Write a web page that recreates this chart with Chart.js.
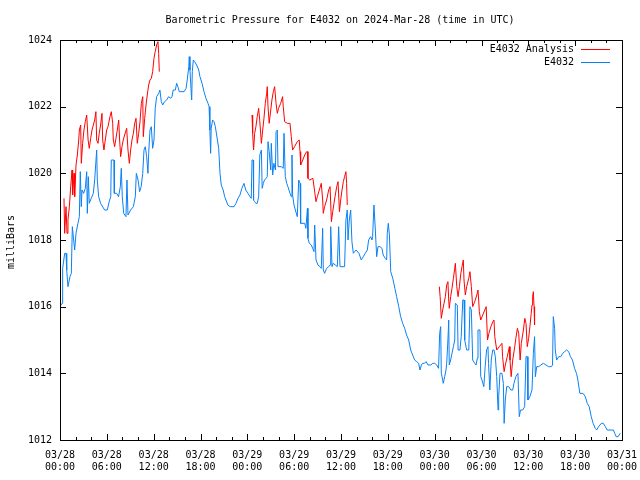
<!DOCTYPE html>
<html>
<head>
<meta charset="utf-8">
<script src="https://cdn.jsdelivr.net/npm/chart.js@4.4.1/dist/chart.umd.min.js"></script>
<style>
  html, body { margin: 0; padding: 0; background: #fff; }
  #wrap { width: 640px; height: 480px; }
</style>
</head>
<body>
<div id="wrap"><canvas id="chart" width="640" height="480"></canvas></div>
<script>
// hours since 03/28 00:00 UTC
const xTickHours = [0, 6, 12, 18, 24, 30, 36, 42, 48, 54, 60, 66, 72];
const xTickLabels = ['03/28\n00:00', '03/28\n06:00', '03/28\n12:00', '03/28\n18:00',
    '03/29\n00:00', '03/29\n06:00', '03/29\n12:00', '03/29\n18:00',
    '03/30\n00:00', '03/30\n06:00', '03/30\n12:00', '03/30\n18:00', '03/31\n00:00'];
const yTicks = [1012, 1014, 1016, 1018, 1020, 1022, 1024];

// E4032 observations
const obsHours = [
    0, 0.26, 0.34, 0.6, 0.77, 0.86, 1.02, 1.28, 1.45, 1.58, 1.75, 1.88, 2.05, 2.3, 2.48, 2.6, 2.73, 2.82,
    3.03, 3.24, 3.42, 3.5, 3.63, 3.75, 4, 4.27, 4.44, 4.7, 4.78, 4.95, 5.2, 5.72, 6.06, 6.3, 6.5, 6.57,
    6.92, 6.96, 7.26, 7.5, 7.73, 7.85, 7.98, 8.16, 8.45, 8.58, 8.71, 9.05, 9.4, 9.65, 9.78, 10, 10.2, 10.4,
    10.6, 10.76, 10.93, 11.1, 11.27, 11.36, 11.53, 11.7, 11.87, 12.04, 12.2, 12.38, 12.64, 12.8, 12.98,
    13.15, 13.4, 13.66, 13.92, 14.18, 14.35, 14.5, 14.77, 14.95, 15.1, 15.28, 15.9, 16.15, 16.3, 16.5,
    16.56, 16.65, 16.78, 16.87, 16.95, 17.08, 17.25, 17.5, 17.77, 17.93, 18.2, 18.45, 18.7, 18.96, 19.1,
    19.2, 19.3, 19.37, 19.55, 19.73, 19.9, 20.07, 20.33, 20.5, 20.66, 20.9, 21.1, 21.5, 21.8, 22.3, 22.55,
    22.8, 23.06, 23.3, 23.57, 23.8, 24.08, 24.34, 24.5, 24.6, 24.76, 24.8, 24.94, 25.1, 25.27, 25.45, 25.6,
    25.8, 25.9, 26.05, 26.2, 26.4, 26.55, 26.65, 26.8, 27, 27.07, 27.25, 27.4, 27.6, 27.68, 27.84, 27.93,
    28.35, 28.6, 28.7, 28.86, 29.05, 29.2, 29.47, 29.63, 29.72, 29.8, 29.98, 30.15, 30.4, 30.58, 30.75,
    30.83, 31.35, 31.5, 31.7, 31.77, 31.94, 32.2, 32.37, 32.54, 32.63, 32.8, 33.05, 33.3, 33.47, 33.65,
    33.73, 33.9, 34.16, 34.42, 34.6, 34.68, 34.85, 35, 35.27, 35.53, 35.7, 35.87, 36.46, 36.63, 36.8, 36.9,
    37.06, 37.24, 37.4, 37.58, 37.75, 37.92, 38.3, 38.6, 38.85, 39.1, 39.37, 39.54, 39.8, 39.97, 40.05,
    40.22, 40.4, 40.57, 40.74, 41, 41.25, 41.4, 41.67, 41.85, 41.93, 42.06, 42.2, 42.37, 42.63, 42.9,
    43.13, 43.4, 43.64, 43.9, 44.16, 44.4, 44.67, 44.93, 45.18, 45.44, 45.7, 45.95, 46.12, 46.3, 46.46,
    46.7, 46.9, 47.14, 47.5, 47.74, 48, 48.26, 48.5, 48.64, 48.77, 48.85, 49.03, 49.1, 49.28, 49.45, 49.54,
    49.7, 49.8, 49.87, 50.05, 50.22, 50.4, 50.57, 50.65, 50.9, 51, 51.24, 51.4, 51.6, 51.76, 51.85, 52.1,
    52.37, 52.52, 52.7, 52.87, 53.13, 53.3, 53.46, 53.55, 53.8, 53.9, 54.06, 54.3, 54.47, 54.65, 54.83,
    54.9, 55.07, 55.25, 55.43, 55.6, 55.77, 55.95, 56.12, 56.2, 56.37, 56.62, 56.8, 56.9, 57.05, 57.23,
    57.5, 57.75, 58, 58.16, 58.4, 58.67, 58.84, 59, 59.27, 59.53, 59.7, 59.86, 59.95, 60.2, 60.47, 60.64,
    60.8, 60.9, 61.07, 61.33, 61.6, 61.93, 62.26, 62.6, 62.94, 63.1, 63.2, 63.37, 63.45, 63.63, 63.9,
    64.15, 64.4, 64.65, 64.9, 65.17, 65.4, 65.66, 65.92, 66.17, 66.35, 66.6, 67, 67.3, 67.55, 67.8, 68.06,
    68.3, 68.57, 68.75, 69, 69.35, 69.6, 69.87, 70.1, 70.6, 70.9, 71.07, 71.25, 71.5, 71.77
];
const obsPressure = [
    1016.0, 1016.1, 1017.15, 1017.6, 1017.6, 1017.1, 1016.6, 1016.9, 1017.0, 1018.4, 1018.0, 1017.7, 1018.2, 1018.5, 1018.7, 1020.05, 1019.0, 1019.5,
    1019.4, 1019.55, 1020.05, 1018.8, 1019.9, 1019.1, 1019.25, 1019.4, 1019.8, 1020.7, 1019.8, 1019.3, 1019.1, 1018.9, 1018.9, 1019.15, 1019.3, 1020.4,
    1020.4, 1019.4, 1019.4, 1019.3, 1019.6, 1020.15, 1019.3, 1018.8, 1018.7, 1019.8, 1018.75, 1018.9, 1019.0, 1019.3, 1020.0, 1019.8, 1019.45, 1019.6,
    1020.0, 1020.7, 1020.8, 1020.5, 1020.0, 1020.6, 1021.3, 1021.4, 1020.75, 1021.0, 1021.95, 1022.3, 1022.4, 1022.5, 1022.15,
    1022.05, 1022.15, 1022.2, 1022.3, 1022.25, 1022.3, 1022.5, 1022.5, 1022.7, 1022.6, 1022.45, 1022.45, 1022.55, 1022.8, 1023.2,
    1023.5, 1023.1, 1022.55, 1022.2, 1023.05, 1023.4, 1023.35, 1023.25, 1023.1, 1022.9, 1022.7, 1022.45, 1022.25, 1022.1, 1022.0,
    1021.3, 1020.6, 1021.35, 1021.6, 1021.55, 1021.4, 1021.15, 1020.75, 1020.0, 1019.65, 1019.5, 1019.3, 1019.05, 1019.0, 1019.0, 1019.1,
    1019.25, 1019.35, 1019.55, 1019.7, 1019.5, 1019.4, 1019.3, 1019.25, 1020.4, 1020.4, 1019.2, 1019.15, 1019.1, 1019.1, 1019.3, 1020.55,
    1020.7, 1019.55, 1019.7, 1019.8, 1019.85, 1019.9, 1020.95, 1020.65, 1020.1, 1020.9, 1019.95, 1020.3, 1020.1, 1021.25, 1021.3, 1020.2,
    1020.2, 1020.15, 1021.2, 1019.9, 1019.7, 1019.6, 1019.4, 1019.3, 1020.55, 1019.35, 1019.05, 1018.9, 1018.7, 1019.8, 1019.7,
    1018.5, 1018.5, 1018.35, 1018.95, 1018.05, 1017.9, 1017.85, 1017.75, 1017.65, 1018.45, 1017.4, 1017.25, 1017.2, 1017.15, 1018.35,
    1017.1, 1017.0, 1017.15, 1017.2, 1017.25, 1018.4, 1017.2, 1017.3, 1017.25, 1017.2, 1018.4, 1017.2, 1017.2, 1018.6, 1018.9, 1018.0,
    1018.6, 1018.9, 1017.95, 1017.6, 1017.65, 1017.7, 1017.6, 1017.4, 1017.5, 1017.6, 1017.7, 1018.0, 1018.1, 1018.0, 1018.1,
    1019.05, 1018.3, 1017.5, 1017.8, 1017.8, 1017.75, 1017.55, 1017.45, 1017.4, 1018.2, 1018.5, 1018.15, 1017.05, 1016.85, 1016.55,
    1016.3, 1016.0, 1015.7, 1015.5, 1015.35, 1015.15, 1015.0, 1014.7, 1014.55, 1014.4, 1014.35, 1014.3, 1014.1, 1014.25, 1014.3,
    1014.3, 1014.35, 1014.25, 1014.25, 1014.3, 1014.3, 1014.25, 1014.15, 1015.2, 1015.4, 1014.0, 1013.8, 1013.7, 1013.9, 1014.1, 1014.3,
    1015.0, 1015.6, 1014.25, 1014.4, 1014.6, 1014.8, 1015.0, 1016.1, 1016.05, 1014.7, 1014.7, 1015.1, 1016.2, 1016.2, 1015.0, 1014.7,
    1014.7, 1016.0, 1015.9, 1014.4, 1014.3, 1014.25, 1014.45, 1015.3, 1015.3, 1013.9, 1013.8, 1013.6, 1014.2, 1014.7, 1014.8,
    1014.3, 1013.5, 1014.4, 1014.7, 1014.7, 1014.5, 1013.9, 1012.9, 1013.3, 1014.0, 1014.0, 1013.7, 1012.5, 1013.2, 1013.6,
    1013.6, 1013.5, 1013.5, 1013.7, 1013.9, 1014.0, 1012.7, 1012.9, 1012.9, 1013.0, 1014.5, 1014.5, 1013.2, 1013.3, 1013.5, 1014.6,
    1015.1, 1013.9, 1014.2, 1014.2, 1014.25, 1014.3, 1014.25, 1014.2, 1014.2, 1014.25, 1015.7, 1015.35, 1014.7, 1014.4, 1014.5,
    1014.5, 1014.6, 1014.65, 1014.7, 1014.65, 1014.5, 1014.4, 1014.15, 1014.0, 1013.8, 1013.4, 1013.4, 1013.3, 1013.1, 1013.0, 1012.7,
    1012.5, 1012.35, 1012.3, 1012.4, 1012.5, 1012.5, 1012.4, 1012.3, 1012.3, 1012.3, 1012.2, 1012.1, 1012.1, 1012.2
];

// E4032 Analysis (three runs, null = gap)
const anaHours = [
    0.51, 0.6, 0.77, 0.9, 1.02, 1.2, 1.37, 1.54, 1.62, 1.8, 1.88, 2.05, 2.22, 2.4, 2.48, 2.65, 2.73, 2.9,
    3.07, 3.24, 3.42, 3.6, 3.75, 3.93, 4.1, 4.27, 4.44, 4.6, 4.7, 4.87, 5.03, 5.2, 5.38, 5.47, 5.63, 5.8,
    5.98, 6.15, 6.4, 6.57, 6.75, 6.83, 7, 7.17, 7.34, 7.52, 7.64, 7.77, 7.94, 8.1, 8.28, 8.54, 8.71, 8.88,
    9.05, 9.22, 9.4, 9.57, 9.74, 9.9, 10.08, 10.25, 10.42, 10.6, 10.67, 10.85, 11.02, 11.18, 11.36, 11.53,
    11.7, 11.87, 12.04, 12.2, 12.38, 12.55, 12.64, 12.72,
    18,
    24.6, 24.68, 24.8, 24.94, 25.1, 25.27, 25.45, 25.6, 25.8, 25.97, 26.13, 26.3, 26.48, 26.55, 26.65, 26.8,
    27, 27.15, 27.33, 27.5, 27.68, 27.84, 28, 28.27, 28.52, 28.6, 28.78, 29.12, 29.47, 29.63, 29.8, 30.05,
    30.4, 30.65, 30.75, 30.83, 31.1, 31.35, 31.6, 31.7, 31.77, 32, 32.4, 32.6, 32.8, 32.97, 33.22, 33.47,
    33.65, 33.73, 33.9, 34.16, 34.42, 34.6, 34.77, 34.94, 35.1, 35.27, 35.45, 35.62, 35.8, 35.96, 36.13,
    36.3, 36.46, 36.63, 36.72, 36.8,
    42,
    48.6, 48.7, 48.85, 49.03, 49.2, 49.37, 49.54, 49.7, 49.8, 49.87, 50.05, 50.22, 50.4, 50.57, 50.65, 50.83,
    51, 51.17, 51.35, 51.5, 51.67, 51.76, 51.93, 52.1, 52.37, 52.52, 52.7, 52.87, 53.13, 53.4, 53.55, 53.64,
    53.72, 53.9, 54.16, 54.42, 54.6, 54.77, 54.95, 55.2, 55.46, 55.6, 55.7, 55.95, 56.28, 56.62, 56.7, 56.9,
    57.05, 57.3, 57.57, 57.65, 57.8, 58, 58.26, 58.4, 58.6, 58.77, 58.95, 59.1, 59.37, 59.55, 59.7, 59.86,
    60.04, 60.2, 60.37, 60.47, 60.55, 60.64, 60.73, 60.8
];
const anaPressure = [
    1019.25, 1018.2, 1019.0, 1018.2, 1018.6, 1019.0, 1019.6, 1020.1, 1019.35, 1020.0, 1019.3, 1020.25, 1020.55, 1021.0, 1021.3, 1021.45, 1020.3, 1020.9,
    1021.3, 1021.55, 1021.75, 1021.0, 1020.75, 1021.05, 1021.3, 1021.45, 1021.6, 1021.85, 1021.0, 1020.9, 1021.2, 1021.45, 1021.8, 1021.0, 1020.7, 1021.0,
    1021.3, 1021.4, 1021.7, 1021.85, 1021.5, 1021.0, 1020.8, 1021.05, 1021.3, 1021.6, 1021.0, 1020.5, 1020.8, 1021.0, 1021.15, 1021.35, 1020.7, 1020.3,
    1020.7, 1021.0, 1021.2, 1021.5, 1021.65, 1020.9, 1021.2, 1021.55, 1022.1, 1022.3, 1021.1, 1021.65, 1022.05, 1022.35, 1022.65, 1022.8,
    1022.85, 1023.05, 1023.45, 1023.65, 1023.85, 1023.95, 1023.6, 1023.05,
    null,
    1021.75, 1021.2, 1020.7, 1021.2, 1021.4, 1021.7, 1021.95, 1021.55, 1020.9, 1021.3, 1021.65, 1022.1, 1022.4, 1022.6, 1022.0, 1021.5,
    1021.9, 1022.2, 1022.45, 1022.6, 1022.1, 1021.8, 1021.95, 1022.1, 1022.3, 1022.0, 1021.55, 1021.5, 1021.5, 1021.1, 1020.7, 1020.8,
    1020.95, 1021.0, 1020.65, 1020.25, 1020.4, 1020.55, 1020.65, 1020.65, 1019.85, 1019.8, 1019.85, 1019.5, 1019.15, 1019.3, 1019.5, 1019.7,
    1019.2, 1018.8, 1019.0, 1019.2, 1019.5, 1019.6, 1018.55, 1018.85, 1019.1, 1019.35, 1019.6, 1019.75, 1018.85, 1019.2, 1019.5,
    1019.75, 1019.9, 1020.05, 1019.7, 1019.05,
    null,
    1016.6, 1016.3, 1015.65, 1015.9, 1016.1, 1016.3, 1016.65, 1016.75, 1016.2, 1015.95, 1016.3, 1016.55, 1016.85, 1017.15, 1017.3, 1016.6,
    1016.3, 1016.6, 1017.0, 1017.2, 1017.4, 1016.8, 1016.35, 1016.6, 1016.85, 1017.05, 1016.6, 1016.0, 1016.15, 1016.35, 1016.5, 1016.2,
    1015.85, 1015.6, 1015.75, 1015.9, 1016.0, 1015.0, 1015.2, 1015.4, 1015.55, 1015.6, 1015.1, 1014.7, 1014.8, 1014.9, 1014.5, 1014.05,
    1014.25, 1014.5, 1014.8, 1014.4, 1013.9, 1014.4, 1014.8, 1015.05, 1015.35, 1015.2, 1014.4, 1014.9, 1015.3, 1015.65, 1015.5, 1014.8,
    1015.05, 1015.4, 1015.8, 1016.05, 1016.3, 1016.45, 1016.0, 1015.45
];

const FONT_FAMILY = '"DejaVu Sans Mono", "Liberation Mono", monospace';
const FONT = '10px ' + FONT_FAMILY;
const RED = '#ff0000';
const BLUE = '#0a80f5';

// gnuplot-like frame, inward ticks, title, axis label and legend
const gnuplotDecor = {
    id: 'gnuplotDecor',
    afterDraw(chart) {
        const { ctx, chartArea: a, scales: { x, y } } = chart;
        ctx.save();
        ctx.strokeStyle = '#000';
        ctx.lineWidth = 1;
        ctx.strokeRect(Math.round(a.left) + 0.5, Math.round(a.top) + 0.5,
            Math.round(a.right - a.left), Math.round(a.bottom - a.top));
        ctx.beginPath();
        for (let h = 0; h <= 72; h += 2) {
            const px = Math.round(x.getPixelForValue(h)) + 0.5;
            const len = h % 6 === 0 ? 6 : 3;
            ctx.moveTo(px, a.bottom); ctx.lineTo(px, a.bottom - len);
            ctx.moveTo(px, a.top); ctx.lineTo(px, a.top + len);
        }
        yTicks.forEach(v => {
            const py = Math.round(y.getPixelForValue(v)) + 0.5;
            ctx.moveTo(a.left, py); ctx.lineTo(a.left + 6, py);
            ctx.moveTo(a.right, py); ctx.lineTo(a.right - 6, py);
        });
        ctx.stroke();

        ctx.fillStyle = '#000';
        ctx.font = FONT;
        ctx.textBaseline = 'middle';
        ctx.textAlign = 'center';
        ctx.fillText('Barometric Pressure for E4032 on 2024-Mar-28 (time in UTC)', 340, 20);

        ctx.save();
        ctx.translate(11, 242);
        ctx.rotate(-Math.PI / 2);
        ctx.fillText('milliBars', 0, 0);
        ctx.restore();

        const rows = [['E4032 Analysis', RED, 49], ['E4032', BLUE, 62]];
        ctx.textAlign = 'right';
        rows.forEach(([label, color, ry]) => {
            ctx.fillStyle = '#000';
            ctx.fillText(label, 574, ry);
            ctx.strokeStyle = color;
            ctx.beginPath();
            ctx.moveTo(581, ry + 0.5); ctx.lineTo(610, ry + 0.5);
            ctx.stroke();
        });
        ctx.restore();
    }
};

const toPoints = (hours, values) => hours.map((h, i) => ({ x: h, y: values[i] }));

new Chart(document.getElementById('chart').getContext('2d'), {
    type: 'line',
    data: {
        datasets: [
            {
                label: 'E4032 Analysis',
                data: toPoints(anaHours, anaPressure),
                borderColor: RED,
                borderWidth: 1,
                pointRadius: 0,
                tension: 0,
                spanGaps: false,
                order: 2
            },
            {
                label: 'E4032',
                data: toPoints(obsHours, obsPressure),
                borderColor: BLUE,
                borderWidth: 1,
                pointRadius: 0,
                tension: 0,
                order: 1
            }
        ]
    },
    options: {
        responsive: false,
        animation: false,
        devicePixelRatio: 1,
        layout: { padding: { top: 40, right: 18, left: 0, bottom: 0 } },
        plugins: {
            legend: { display: false },
            title: { display: false },
            tooltip: { enabled: false }
        },
        scales: {
            x: {
                type: 'linear',
                min: 0,
                max: 72,
                afterBuildTicks: s => { s.ticks = xTickHours.map(v => ({ value: v })); },
                afterFit: s => { s.height = 40; s.paddingLeft = 0; s.paddingRight = 0; },
                grid: { display: false, drawTicks: false },
                border: { display: false },
                ticks: {
                    autoSkip: false,
                    maxRotation: 0,
                    padding: 9,
                    color: '#000',
                    font: { family: FONT_FAMILY, size: 10, lineHeight: 1.2 },
                    callback: (v) => xTickLabels[xTickHours.indexOf(v)].split('\n')
                }
            },
            y: {
                min: 1012,
                max: 1024,
                afterBuildTicks: s => { s.ticks = yTicks.map(v => ({ value: v })); },
                afterFit: s => { s.width = 60; s.paddingTop = 0; s.paddingBottom = 0; },
                grid: { display: false, drawTicks: false },
                border: { display: false },
                ticks: {
                    padding: 8,
                    color: '#000',
                    font: { family: FONT_FAMILY, size: 10 },
                    callback: v => String(v)
                }
            }
        }
    },
    plugins: [gnuplotDecor]
});
</script>
</body>
</html>
